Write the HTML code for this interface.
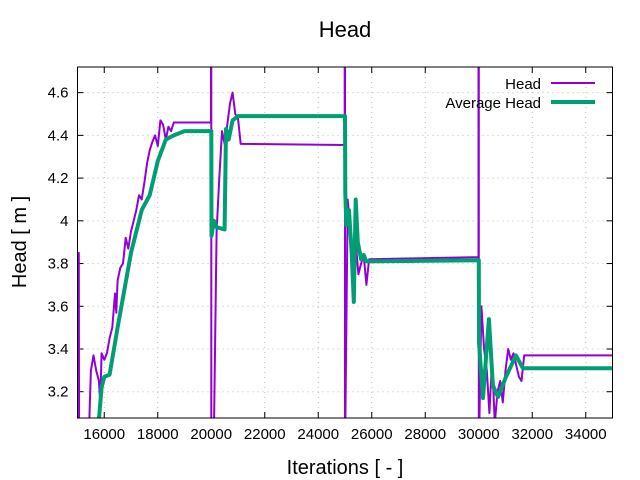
<!DOCTYPE html>
<html><head><meta charset="utf-8"><style>
body{margin:0;background:#fff}
svg{display:block;font-family:"Liberation Sans","DejaVu Sans",sans-serif}
</style></head><body>
<svg id="chart" width="640" height="480">
<text x="345" y="37" text-anchor="middle" font-size="22">Head</text>
<text x="345" y="474" text-anchor="middle" font-size="20">Iterations [ - ]</text>
<text transform="translate(26,242) rotate(-90)" text-anchor="middle" font-size="20">Head [ m ]</text>
<g id="grid"></g><g id="ticks"></g>
<defs><clipPath id="clip"><rect x="77.5" y="67" width="535" height="351"/></clipPath></defs>
<g clip-path="url(#clip)" id="series"></g>
<rect x="77.5" y="67" width="535" height="351" fill="none" stroke="#000" stroke-width="1"/>
<g>
<text x="541" y="89" text-anchor="end" font-size="15">Head</text>
<line x1="551" y1="83" x2="595" y2="83" stroke="#9400d3" stroke-width="2"/>
<text x="541" y="108" text-anchor="end" font-size="15">Average Head</text>
<line x1="551" y1="102" x2="595" y2="102" stroke="#009e73" stroke-width="4"/>
</g>
</svg>
<script>
const xTicks=[16000,18000,20000,22000,24000,26000,28000,30000,32000,34000];
const yTicks=[3.2,3.4,3.6,3.8,4,4.2,4.4,4.6];
const yTickLabels=["3.2","3.4","3.6","3.8","4","4.2","4.4","4.6"];
const headX=[15050,15050,15060,15400,15500,15600,15700,15800,15850,15900,16000,16100,16200,16300,16400,16450,16500,16600,16700,16800,16900,17000,17100,17200,17300,17400,17500,17600,17700,17800,17900,18000,18100,18200,18300,18400,18500,18600,19990,19990,20000,20000,20100,20200,20300,20400,20500,20600,20700,20800,20900,21000,21100,24990,24990,25000,25000,25100,25200,25300,25400,25500,25600,25700,25800,25900,29990,29990,30000,30000,30100,30200,30300,30400,30500,30600,30700,30800,30900,31000,31100,31200,31300,31500,31600,31700,35000];
const headY=[2.9,3.85,2.9,2.9,3.30,3.37,3.30,3.25,3.15,3.38,3.35,3.38,3.45,3.50,3.66,3.57,3.72,3.78,3.80,3.92,3.87,3.95,4.00,4.05,4.12,4.10,4.18,4.27,4.33,4.37,4.40,4.35,4.47,4.45,4.38,4.44,4.42,4.46,4.46,5.0,5.0,2.9,3.0,3.95,4.20,4.42,4.36,4.45,4.55,4.60,4.50,4.48,4.36,4.355,5.0,5.0,2.9,4.10,3.95,3.85,3.90,3.75,3.80,3.84,3.70,3.82,3.83,5.0,5.0,2.9,3.60,3.40,3.30,3.10,3.35,3.05,3.20,3.25,3.15,3.30,3.40,3.35,3.38,3.27,3.25,3.37,3.37];
const avgX=[15800,15900,16000,16200,16500,17000,17400,17700,18000,18300,18600,19000,20000,20010,20100,20200,20500,20550,20650,20800,21000,25000,25010,25050,25150,25250,25330,25400,25480,25600,25700,25800,30000,30010,30160,30380,30530,30720,31020,31390,31650,35000];
const avgY=[3.07,3.22,3.27,3.28,3.50,3.85,4.05,4.12,4.28,4.38,4.40,4.42,4.42,3.93,4.00,3.97,3.96,4.43,4.38,4.47,4.49,4.49,4.13,3.98,4.05,3.85,3.62,4.10,3.90,3.82,3.84,3.81,3.815,3.43,3.17,3.54,3.23,3.175,3.27,3.37,3.31,3.31];
const X0=15000,X1=35000,Y0=3.077,Y1=4.72,L=77.5,R=612.5,T=67,B=418;
const sx=v=>L+(v-X0)/(X1-X0)*(R-L);
const sy=v=>B-(v-Y0)/(Y1-Y0)*(B-T);
const NS="http://www.w3.org/2000/svg";
const mk=(t,a,p)=>{const e=document.createElementNS(NS,t);for(const k in a)e.setAttribute(k,a[k]);p.appendChild(e);return e;};
const grid=document.getElementById('grid'),ticks=document.getElementById('ticks'),ser=document.getElementById('series');
xTicks.forEach(v=>{const x=sx(v);
 const g=mk('line',{x1:x,x2:x,y1:T,y2:B,stroke:'#bbb','stroke-width':1,'stroke-dasharray':'1,4'},grid);
 
 
 const t1=mk('line',{x1:x,x2:x,y1:B,y2:B-6,stroke:'#000'},ticks);
 
 
 const t2=mk('line',{x1:x,x2:x,y1:T,y2:T+6,stroke:'#000'},ticks);
 
 
 const tx=mk('text',{x:x,y:B+21,'text-anchor':'middle','font-size':15},ticks);tx.textContent=v;
 
 
});
yTicks.forEach((v,i)=>{const y=sy(v);
 const g=mk('line',{x1:L,x2:R,y1:y,y2:y,stroke:'#bbb','stroke-width':1,'stroke-dasharray':'1,4'},grid);
 
 
 const t1=mk('line',{x1:L,x2:L+6,y1:y,y2:y,stroke:'#000'},ticks);
 
 
 const t2=mk('line',{x1:R,x2:R-6,y1:y,y2:y,stroke:'#000'},ticks);
 
 
 const tx=mk('text',{x:L-9,y:y+5,'text-anchor':'end','font-size':15},ticks);tx.textContent=yTickLabels[i];
 
 
});
const pts=(xs,ys)=>xs.map((v,i)=>sx(v).toFixed(1)+','+sy(ys[i]).toFixed(1)).join(' ');
const hl=mk('polyline',{points:pts(headX,headY),fill:'none',stroke:'#9400d3','stroke-width':2,'stroke-linejoin':'round'},ser);


const al=mk('polyline',{points:pts(avgX,avgY),fill:'none',stroke:'#009e73','stroke-width':4,'stroke-linejoin':'round'},ser);


</script>
</body></html>
